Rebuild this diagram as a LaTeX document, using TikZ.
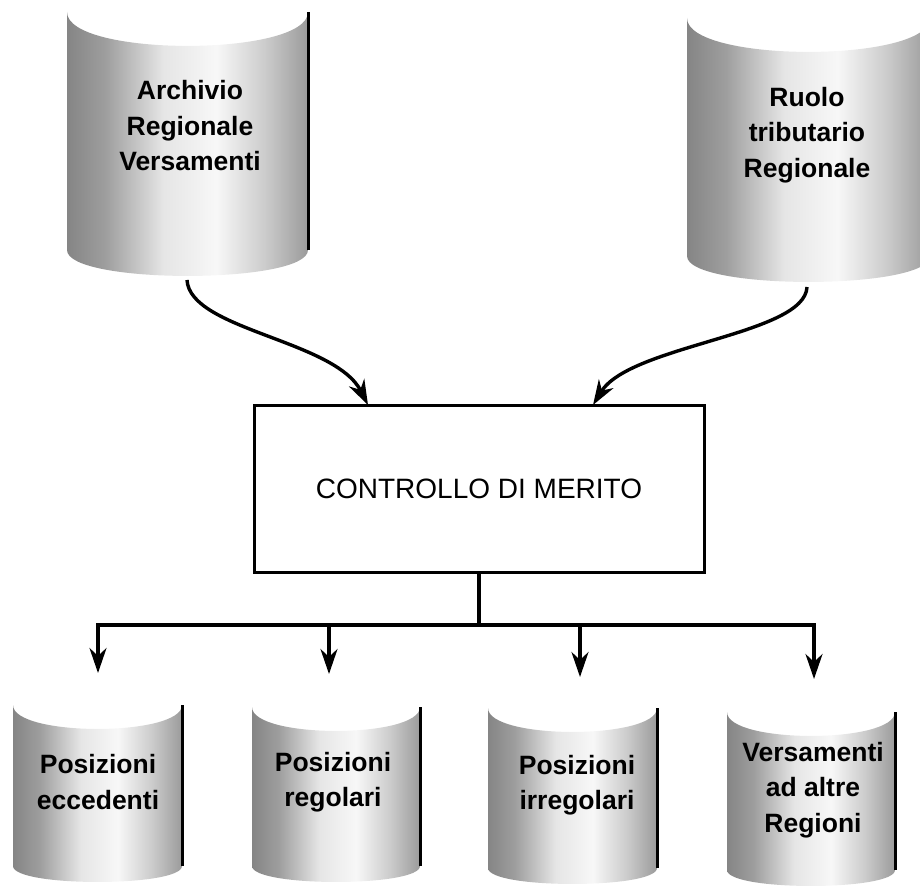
\documentclass[tikz,border=0pt]{standalone}
\usepackage{fontspec}
\setmainfont{Liberation Sans}
\usetikzlibrary{arrows.meta}
\pgfdeclarehorizontalshading{cylshade}{100bp}{%
  color(0bp)=(black!60); color(20bp)=(black!54); color(33bp)=(black!38);
  color(45bp)=(black!10); color(56bp)=(black!3); color(66bp)=(black!20);
  color(80bp)=(black!50); color(92bp)=(black!64); color(97bp)=(black!82);
  color(100bp)=(black!95)}
\newcommand{\cylbody}[6]{%
  \path[shading=cylshade]
    (#1,#3) .. controls (#1,{#3+1.33*#5}) and (#2,{#3+1.33*#5}) .. (#2,#3)
    -- (#2,#4) .. controls (#2,{#4+1.33*#6}) and (#1,{#4+1.33*#6}) .. (#1,#4) -- cycle;
  \draw[line width=3pt] (#2,#3) -- (#2,#4);}
\tikzset{
  x=1pt, y=-1pt,
  cyltext/.style={font=\fontsize{26.5}{35.5}\selectfont\bfseries, align=center, inner sep=0pt},
  procbox/.style={draw, line width=3pt, minimum width=450pt, minimum height=167pt,
    font=\fontsize{28}{32}\selectfont, inner sep=0pt},
  flow/.style={line width=3.4pt, -{Stealth[length=25pt,width=17pt,inset=8pt]}},
  trunk/.style={line width=3.4pt}
}
\begin{document}
\begin{tikzpicture}
\useasboundingbox (0,0) rectangle (920,890);
\clip (0,0) rectangle (920,890);
% top cylinders
\cylbody{67}{308}{12}{250}{34}{26}
\cylbody{687}{930}{18}{256}{34}{26}
% bottom cylinders
\cylbody{13}{182}{705}{866}{24}{16}
\cylbody{252}{420}{707}{866}{24}{16}
\cylbody{488}{657}{708}{868}{24}{16}
\cylbody{727}{895}{712}{870}{24}{16}
% labels
\node[cyltext] (arv) at (190,126) {Archivio\\Regionale\\Versamenti};
\node[cyltext] (rtr) at (807,135) {Ruolo\\tributario\\Regionale};
\node[cyltext] (pe) at (98,782) {Posizioni\\eccedenti};
\node[cyltext] (pr) at (333,782) {Posizioni\\regolari};
\node[cyltext] (pi) at (577,785) {Posizioni\\irregolari};
\node[cyltext] (va) at (813,790) {Versamenti\\ad altre\\Regioni};
% process box
\node[procbox] (ctrl) at (479,489) {CONTROLLO DI MERITO};
% connector endpoints
\coordinate (arvout) at (187,280);
\coordinate (rtrout) at (807,287);
\coordinate (inL) at (368,405);
\coordinate (inR) at (593,405);
\coordinate (bL1) at (98,625);
\coordinate (bR1) at (814,625);
\coordinate (tip1) at (98,673);
\coordinate (tip2) at (329,674);
\coordinate (tip3) at (580,677);
\coordinate (tip4) at (814,679);
% curved inputs
\draw[flow] (arvout) .. controls (190,330) and (335,340) .. (inL);
\draw[flow] (rtrout) .. controls (805,335) and (630,345) .. (inR);
% output tree
\draw[trunk] (ctrl.south) -- (ctrl.south |- bL1);
\draw[trunk, line cap=rect] (bL1) -- (bR1);
\draw[flow] (bL1) -- (tip1);
\draw[flow] (tip2 |- bL1) -- (tip2);
\draw[flow] (tip3 |- bL1) -- (tip3);
\draw[flow] (bR1) -- (tip4);
\end{tikzpicture}
\end{document}
